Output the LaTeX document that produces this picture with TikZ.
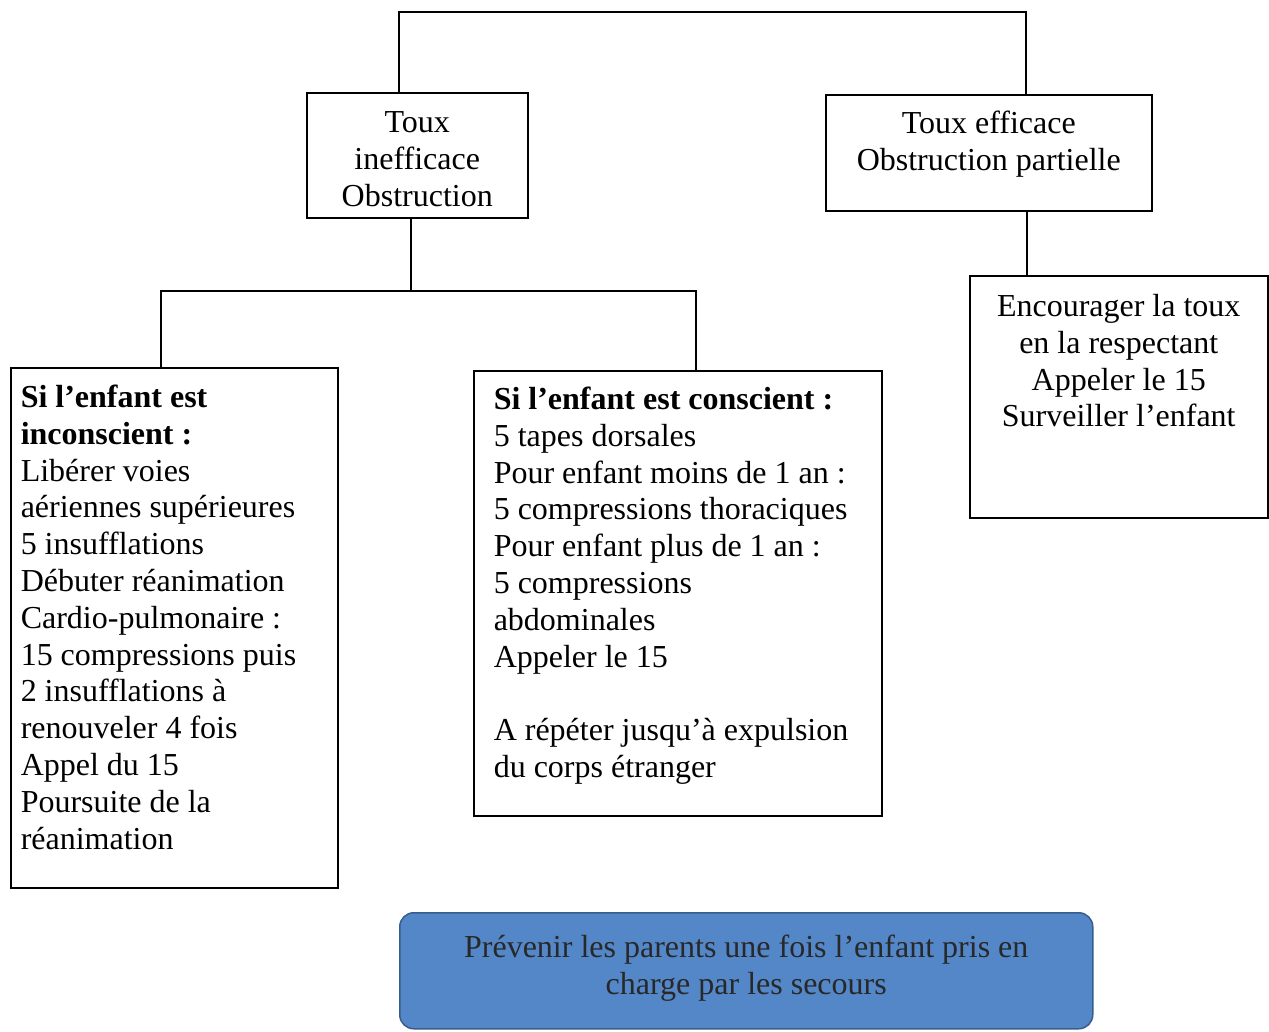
\documentclass[tikz,border=0pt]{standalone}
\usepackage{fontspec}
\setmainfont{Liberation Serif}
\definecolor{boxblue}{RGB}{84,135,200}
\definecolor{boxblueline}{RGB}{56,93,140}
\definecolor{bluetext}{RGB}{40,40,40}
\tikzset{
  plainbox/.style={draw, line width=1.5pt, inner sep=0pt, anchor=north west,
    font=\fontsize{32}{36.8}\selectfont},
  bluebox/.style={draw=boxblueline, fill=boxblue, line width=1.5pt, rounded corners=14pt,
    inner sep=0pt, anchor=north west, text=bluetext,
    font=\fontsize{32}{37}\selectfont},
  link/.style={line width=1.4pt}
}
\begin{document}
\begin{tikzpicture}[x=1pt,y=-1pt]
\useasboundingbox (0,0) rectangle (1269,1031);

\node[plainbox] (b1) at (306,92) {\parbox[c][125pt][t]{221pt}{\centering\vspace*{14pt}\strut Toux\\inefficace\\Obstruction}};

\node[plainbox] (b2) at (825,94) {\parbox[c][116pt][t]{326pt}{\centering\vspace*{13pt}\strut Toux efficace\\Obstruction partielle}};

\node[plainbox] (b3) at (10,367) {\parbox[c][520pt][t]{327pt}{\raggedright\leftskip=10pt\vspace*{14pt}\strut
\textbf{Si l’enfant est}\\
\textbf{inconscient :}\\
Libérer voies\\
aériennes supérieures\\
5 insufflations\\
Débuter réanimation\\
Cardio-pulmonaire :\\
15 compressions puis\\
2 insufflations à\\
renouveler 4 fois\\
Appel du 15\\
Poursuite de la\\
réanimation}};

\node[plainbox] (b4) at (473,370) {\parbox[c][445pt][t]{408pt}{\raggedright\leftskip=20pt\vspace*{13pt}\strut
\textbf{Si l’enfant est conscient :}\\
5 tapes dorsales\\
Pour enfant moins de 1 an :\\
5 compressions thoraciques\\
Pour enfant plus de 1 an :\\
5 compressions\\
abdominales\\
Appeler le 15\\
\mbox{}\\
A répéter jusqu’à expulsion\\
du corps étranger}};

\node[plainbox] (b5) at (969,275) {\parbox[c][242pt][t]{298pt}{\centering\vspace*{15pt}\strut
Encourager la toux\\
en la respectant\\
Appeler le 15\\
Surveiller l’enfant}};

\node[bluebox] (b6) at (399,912) {\parbox[c][116pt][t]{693pt}{\centering\vspace*{19pt}\strut
Prévenir les parents une fois l’enfant pris en\\
charge par les secours}};

\coordinate (t1) at (399,12);
\coordinate (t2) at (1026,12);
\coordinate (j) at (411,291);
\coordinate (jl) at (161,291);
\coordinate (jr) at (696,291);
\coordinate (r) at (1027,250);

\draw[link] (b1.north -| t1) -- (t1) -- (t2) -- (b2.north -| t2);
\draw[link] (b1.south -| j) -- (j);
\draw[link] (b3.north -| jl) -- (jl) -- (jr) -- (b4.north -| jr);
\draw[link] (b2.south -| r) -- (b5.north -| r);
\end{tikzpicture}
\end{document}
